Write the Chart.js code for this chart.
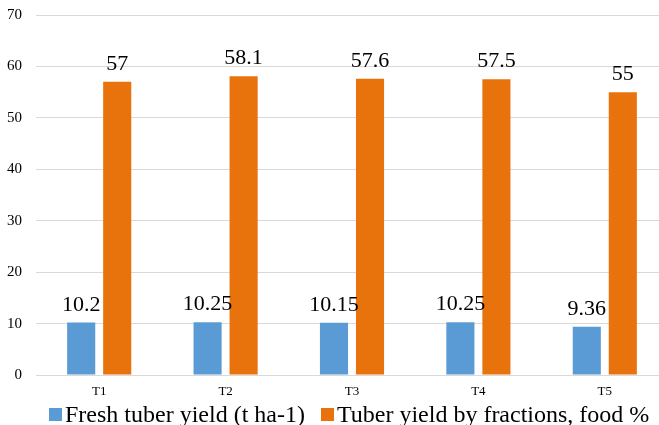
<!DOCTYPE html>
<html>
<head>
<meta charset="utf-8">
<script src="https://cdn.jsdelivr.net/npm/chart.js@4/dist/chart.umd.min.js"></script>
<style>
html,body{margin:0;padding:0;background:#fff;overflow:hidden;}
#wrap{position:relative;width:672px;height:425px;}
#legend{position:absolute;left:49px;top:402px;height:24px;display:flex;align-items:center;
  font-family:'Liberation Serif','Times New Roman',serif;font-size:24px;line-height:24px;color:#000;white-space:nowrap;}
#legend .item{display:flex;align-items:center;margin-right:16px;}
#legend .box{width:13px;height:13px;margin-right:3px;}
</style>
</head>
<body>
<div id="wrap"><canvas id="c"></canvas><div id="legend"></div></div>
<script>
const categories = ["T1", "T2", "T3", "T4", "T5"];
const freshYield = [10.2, 10.25, 10.15, 10.25, 9.36];
const foodFraction = [57, 58.1, 57.6, 57.5, 55];
const seriesNames = ["Fresh tuber yield (t ha-1)", "Tuber yield by fractions, food %"];
const seriesColors = ['#5B9BD5', '#E8730C'];
const yTicks = [0, 10, 20, 30, 40, 50, 60, 70];

const FONT = "'Liberation Serif', 'Times New Roman', serif";

const valueLabels = {
  id: 'valueLabels',
  afterDatasetsDraw(chart) {
    const ctx = chart.ctx;
    ctx.save();
    ctx.font = "22px " + FONT;
    ctx.fillStyle = "#000";
    ctx.textAlign = "center";
    ctx.textBaseline = "alphabetic";
    chart.data.datasets.forEach((ds, di) => {
      chart.getDatasetMeta(di).data.forEach((bar, i) => {
        ctx.fillText(String(ds.data[i]), bar.x, bar.y - 12);
      });
    });
    ctx.restore();
  }
};

const chart = new Chart(document.getElementById('c'), {
  type: 'bar',
  data: {
    labels: categories,
    datasets: [
      { label: seriesNames[0], data: freshYield, backgroundColor: seriesColors[0], borderWidth: 0 },
      { label: seriesNames[1], data: foodFraction, backgroundColor: seriesColors[1], borderWidth: 0 }
    ]
  },
  options: {
    responsive: true,
    maintainAspectRatio: false,
    animation: false,
    layout: { padding: { top: 15, left: 0, right: 4, bottom: 0 } },
    datasets: { bar: { categoryPercentage: 0.57, barPercentage: 0.78 } },
    plugins: {
      legend: { display: false },
      tooltip: { enabled: false }
    },
    scales: {
      x: {
        afterFit(scale) { scale.height = 50; },
        grid: { display: false, drawTicks: false },
        border: { display: false },
        ticks: { color: '#000', font: { family: FONT, size: 13 }, padding: 9 }
      },
      y: {
        min: 0, max: 70,
        afterBuildTicks(scale) { scale.ticks = yTicks.map(v => ({ value: v })); },
        afterFit(scale) { scale.width = 36; scale.paddingTop = 0; scale.paddingBottom = 0; },
        grid: { color: '#D9D9D9', lineWidth: 1, drawTicks: false },
        border: { display: false },
        ticks: { color: '#000', font: { family: FONT, size: 15 }, padding: 14 }
      }
    }
  },
  plugins: [valueLabels]
});

// HTML legend built from the chart's datasets
const legendEl = document.getElementById('legend');
chart.data.datasets.forEach((ds) => {
  const item = document.createElement('span');
  item.className = 'item';
  const box = document.createElement('span');
  box.className = 'box';
  box.style.background = ds.backgroundColor;
  const txt = document.createElement('span');
  txt.textContent = ds.label;
  item.appendChild(box);
  item.appendChild(txt);
  legendEl.appendChild(item);
});
</script>
</body>
</html>
